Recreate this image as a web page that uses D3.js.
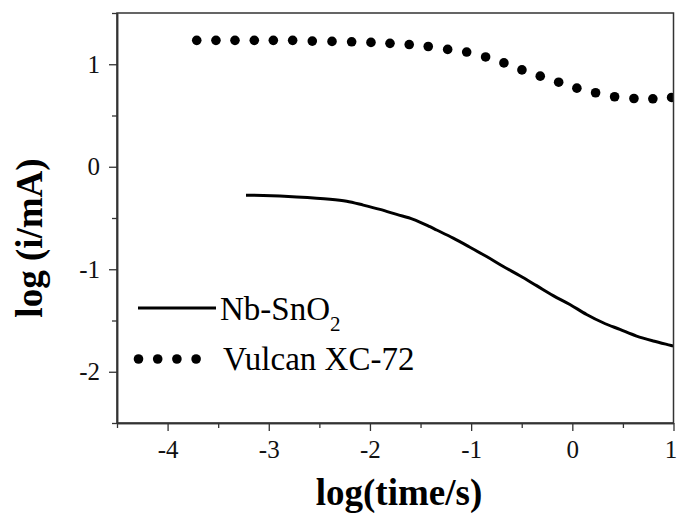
<!DOCTYPE html>
<html>
<head>
<meta charset="utf-8">
<script src="https://cdn.jsdelivr.net/npm/d3@7"></script>
<style>
  body { margin: 0; background: #fff; }
  svg { display: block; font-family: "Liberation Serif", "Times New Roman", serif; }
</style>
</head>
<body>
<div id="chart"></div>
<script>
// Nb-SnO2 (solid line)
const nbTime = [-3.225, -3.054, -2.724, -2.395, -2.230, -2.066, -1.901, -1.736, -1.572, -1.407,
  -1.341, -1.177, -1.012, -0.847, -0.682, -0.518, -0.353, -0.189, -0.024, 0.141,
  0.305, 0.470, 0.635, 0.800, 1.0];
const nbCurrent = [-0.277, -0.280, -0.294, -0.316, -0.336, -0.374, -0.416, -0.465, -0.513, -0.585,
  -0.617, -0.697, -0.785, -0.876, -0.973, -1.063, -1.160, -1.257, -1.344, -1.441,
  -1.522, -1.587, -1.652, -1.700, -1.749];

// Vulcan XC-72 (dots)
const vulcanTime = [-3.712, -3.522, -3.334, -3.143, -2.955, -2.764, -2.570, -2.375, -2.181, -1.990,
  -1.802, -1.612, -1.424, -1.232, -1.044, -0.857, -0.676, -0.498, -0.317, -0.135,
  0.045, 0.230, 0.418, 0.609, 0.796, 0.981];
const vulcanCurrent = [1.233, 1.233, 1.233, 1.233, 1.233, 1.233, 1.226, 1.223, 1.219, 1.213,
  1.204, 1.192, 1.173, 1.145, 1.119, 1.071, 1.013, 0.945, 0.884, 0.825,
  0.767, 0.722, 0.683, 0.666, 0.663, 0.676];

const xTicks = [-4, -3, -2, -1, 0, 1];
const xMinor = [-4.5, -3.5, -2.5, -1.5, -0.5, 0.5];
const yTicks = [-2, -1, 0, 1];
const yMinor = [-2.5, -1.5, -0.5, 0.5, 1.5];

const width = 678;
const height = 513;
const margin = { top: 13, right: 4.5, bottom: 90, left: 117 };
const serif = '"Liberation Serif", "Times New Roman", serif';

const svg = d3.select("#chart")
  .append("svg")
  .attr("width", width)
  .attr("height", height);

const x = d3.scaleLinear()
  .domain([-4.5, 1])
  .range([margin.left, width - margin.right]);

const y = d3.scaleLinear()
  .domain([-2.5, 1.5])
  .range([height - margin.bottom, margin.top]);

svg.append("clipPath").attr("id", "plot")
  .append("rect")
  .attr("x", x(-4.5)).attr("y", y(1.5))
  .attr("width", x(1) - x(-4.5)).attr("height", y(-2.5) - y(1.5));

// Nb-SnO2 line
const line = d3.line()
  .x(d => x(d[0]))
  .y(d => y(d[1]))
  .curve(d3.curveCatmullRom);

svg.append("path")
  .datum(nbTime.map((t, i) => [t, nbCurrent[i]]))
  .attr("clip-path", "url(#plot)")
  .attr("d", line)
  .attr("fill", "none")
  .attr("stroke", "#000")
  .attr("stroke-width", 3);

// Vulcan dots
svg.append("g")
  .attr("clip-path", "url(#plot)")
  .selectAll("circle")
  .data(vulcanTime.map((t, i) => [t, vulcanCurrent[i]]))
  .enter()
  .append("circle")
  .attr("cx", d => x(d[0]))
  .attr("cy", d => y(d[1]))
  .attr("r", 4.8)
  .attr("fill", "#000");

// frame
svg.append("rect")
  .attr("x", x(-4.5)).attr("y", y(1.5))
  .attr("width", x(1) - x(-4.5)).attr("height", y(-2.5) - y(1.5))
  .attr("fill", "none")
  .attr("stroke", "#333")
  .attr("stroke-width", 1.5);

const fmt = d => d < 0 ? "-" + Math.abs(d) : d;

// X axis
const gx = svg.append("g")
  .attr("transform", `translate(0,${y(-2.5)})`)
  .call(d3.axisBottom(x).tickValues(xTicks).tickSize(8).tickSizeOuter(0).tickPadding(9).tickFormat(fmt));
svg.append("g")
  .attr("transform", `translate(0,${y(-2.5)})`)
  .call(d3.axisBottom(x).tickValues(xMinor).tickSize(5).tickSizeOuter(0).tickFormat(""));

// Y axis
const gy = svg.append("g")
  .attr("transform", `translate(${x(-4.5)},0)`)
  .call(d3.axisLeft(y).tickValues(yTicks).tickSize(8).tickSizeOuter(0).tickPadding(9).tickFormat(fmt));
svg.append("g")
  .attr("transform", `translate(${x(-4.5)},0)`)
  .call(d3.axisLeft(y).tickValues(yMinor).tickSize(5).tickSizeOuter(0).tickFormat(""));

[gx, gy].forEach(g => g.attr("font-family", serif).attr("font-size", 25));
svg.selectAll(".domain").attr("stroke", "#333").attr("stroke-width", 1.5);
svg.selectAll(".tick line").attr("stroke", "#333").attr("stroke-width", 1.3);
svg.selectAll(".tick text").attr("fill", "#111");
// keep the last x label inside the window
gx.selectAll(".tick text").filter(d => d === 1).attr("x", -3);

// axis titles
svg.append("text")
  .attr("x", 399)
  .attr("y", 505)
  .attr("text-anchor", "middle")
  .attr("font-size", 37)
  .attr("font-weight", "bold")
  .text("log(time/s)");

svg.append("text")
  .attr("transform", "translate(42,238) rotate(-90)")
  .attr("text-anchor", "middle")
  .attr("font-size", 37)
  .attr("font-weight", "bold")
  .text("log (i/mA)");

// legend
const legend = svg.append("g");
legend.append("line")
  .attr("x1", 138).attr("x2", 216)
  .attr("y1", 308).attr("y2", 308)
  .attr("stroke", "#000").attr("stroke-width", 3);
const nbLabel = legend.append("text")
  .attr("x", 220).attr("y", 320)
  .attr("font-size", 33)
  .text("Nb-SnO");
nbLabel.append("tspan")
  .attr("font-size", 21)
  .attr("dy", 11)
  .text("2");

legend.selectAll("circle")
  .data([0, 1, 2, 3])
  .enter()
  .append("circle")
  .attr("cx", d => 138.5 + d * 19.2)
  .attr("cy", 359)
  .attr("r", 4.8)
  .attr("fill", "#000");
legend.append("text")
  .attr("x", 223).attr("y", 370)
  .attr("font-size", 33)
  .text("Vulcan XC-72");
</script>
</body>
</html>
